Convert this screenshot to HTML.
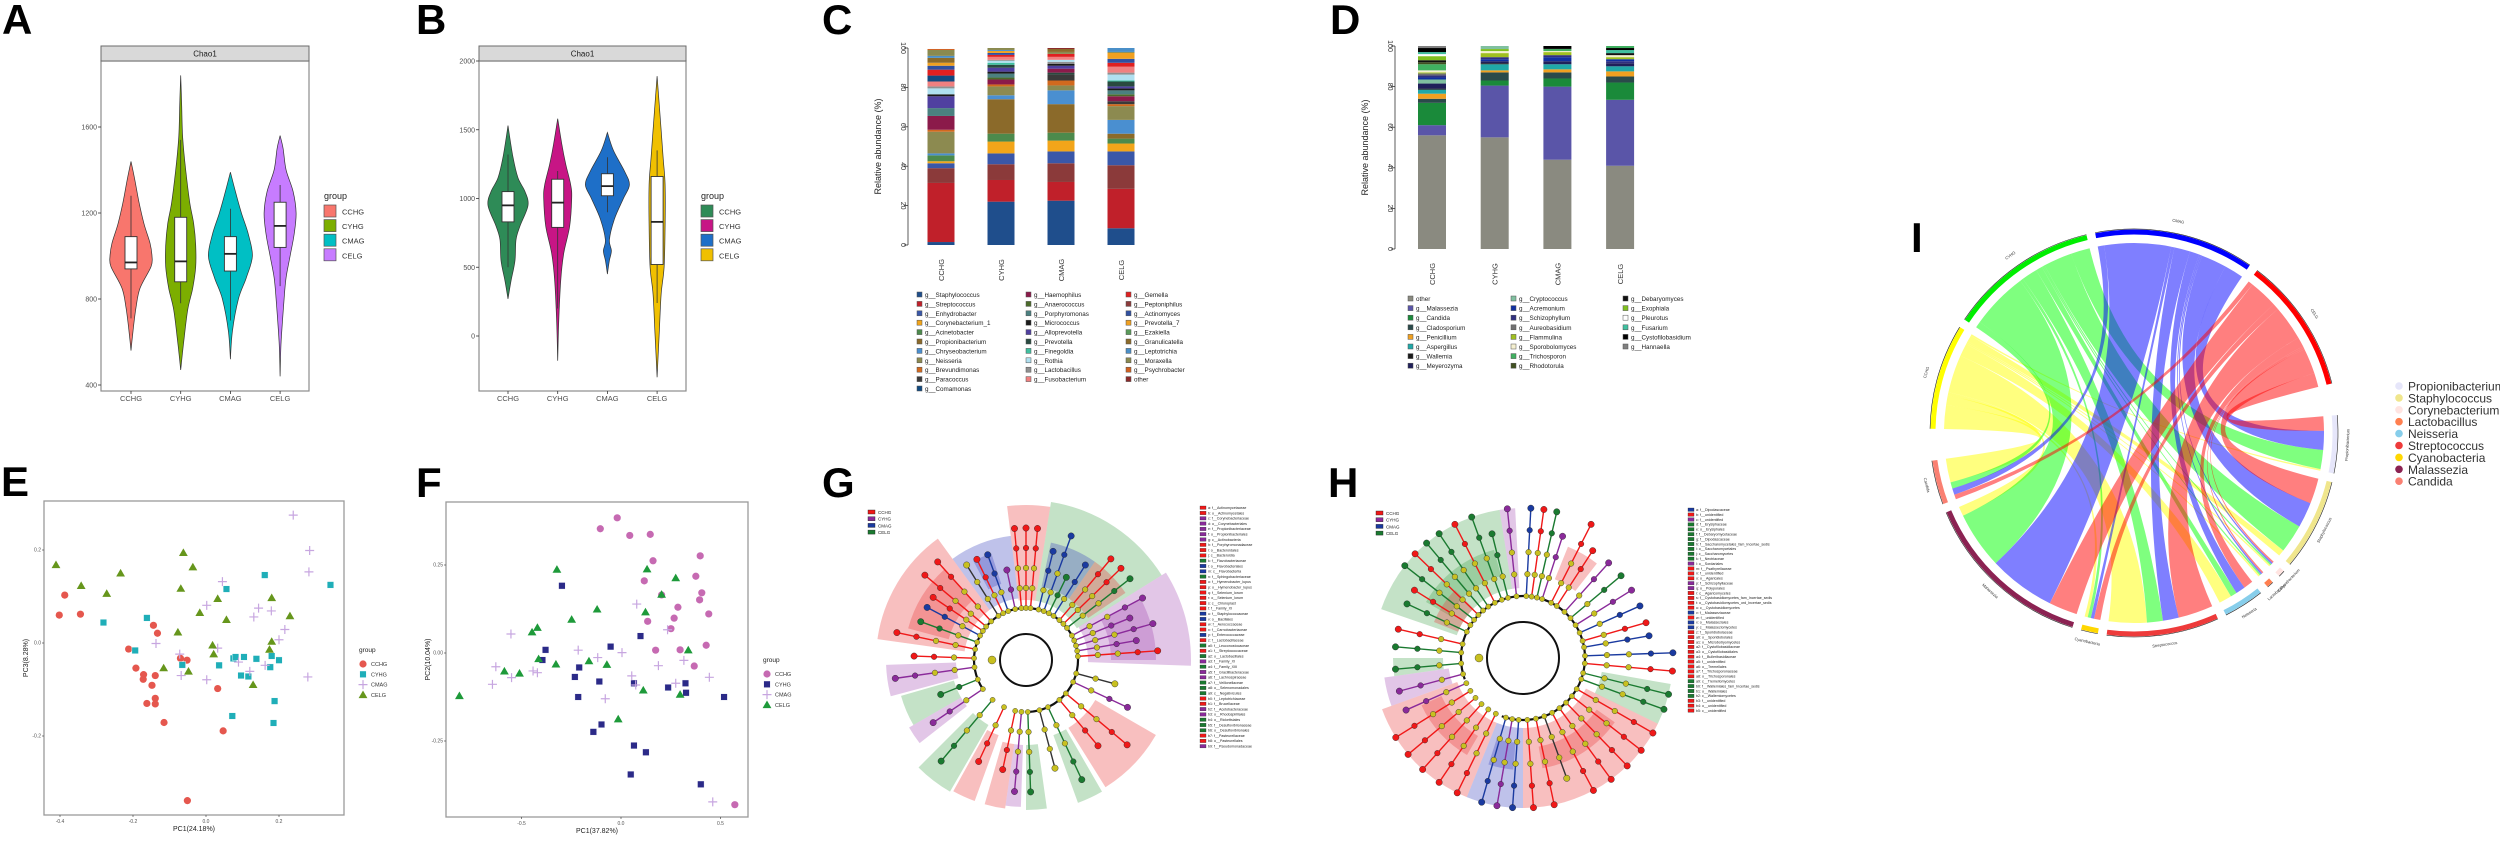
<!DOCTYPE html>
<html><head><meta charset="utf-8"><title>Figure</title>
<style>
html,body{margin:0;padding:0;background:#fff;}
svg{display:block;font-family:"Liberation Sans",sans-serif;}
</style></head>
<body>
<svg id="fig" width="2500" height="843" viewBox="0 0 2500 843" xmlns="http://www.w3.org/2000/svg">
<rect x="0" y="0" width="2500" height="843" fill="#fff"/>
</svg>
<script>
// ---------- DATA ----------
const vGroups=['CCHG','CYHG','CMAG','CELG'];
// Panel A violin
const aTicks=[400,800,1200,1600];
const aKnotVals=[[560,650,760,850,950,1000,1060,1150,1250,1350,1440],[470,600,750,850,950,1050,1150,1250,1400,1550,1700,1840],[520,650,800,900,1000,1100,1200,1300,1390],[440,600,800,900,1000,1100,1200,1300,1400,1500,1560]];
const aKnotWidths=[[0,2,5,9,20,21,19,13,8,4,0],[0,3,7,12,15,15,13,9,5,2,1,0],[0,2,8,16,22,18,11,5,0],[0,1,4,6,10,14,16,13,6,3,0]];
const aQ1=[940,880,930,1040];
const aMed=[970,975,1010,1140];
const aQ3=[1090,1180,1090,1250];
const aWLo=[710,780,700,860];
const aWHi=[1280,1540,1220,1330];
// Panel B violin
const bTicks=[0,500,1000,1500,2000];
const bKnotVals=[[270,400,550,700,800,950,1050,1150,1300,1530],[-180,100,400,600,800,1000,1100,1250,1400,1580],[450,550,620,700,850,1000,1100,1200,1350,1480],[-300,0,300,500,800,1100,1300,1600,1890]];
const bKnotWidths=[[0,3,7,8,12,20,17,10,5,0],[0,1,3,6,12,14,13,8,4,0],[0,2,4,2,7,16,22,17,6,0],[0,2,4,7,8,8,6,3,0]];
const bQ1=[830,790,1020,520];
const bMed=[950,970,1090,830];
const bQ3=[1050,1140,1180,1160];
const bWLo=[500,200,900,240];
const bWHi=[1320,1200,1300,1350];

// Panel C stacked bars
const cGenera=['Staphylococcus','Streptococcus','Enhydrobacter','Corynebacterium_1','Acinetobacter','Propionibacterium','Chryseobacterium','Neisseria','Brevundimonas','Paracoccus','Comamonas','Haemophilus','Anaerococcus','Porphyromonas','Micrococcus','Alloprevotella','Prevotella','Finegoldia','Rothia','Lactobacillus','Fusobacterium','Gemella','Peptoniphilus','Actinomyces','Prevotella_7','Ezakiella','Granulicatella','Leptotrichia','Moraxella','Psychrobacter','other'];
const cColors=['#1f4e8c','#c0202a','#3a57a8','#f2a51a','#4c8a4c','#8b6a2a','#4a8fd0','#8c8a50','#d2691e','#3a3a3a','#114a80','#8b1a4a','#4b6b2a','#4b8080','#1a1a1a','#5040a0','#2a4a40','#40c0a0','#b0e0f0','#909090','#f08080','#e02020','#8b3a3a','#3050a0','#f0a020','#5a9a5a','#8b6a2a','#4a8fc8','#8a8a50','#d06020','#8b2a2a'];
const cSegCCHG=['Staphylococcus','Streptococcus','Peptoniphilus','Enhydrobacter','Corynebacterium_1','Acinetobacter','Chryseobacterium','Neisseria','Brevundimonas','Haemophilus','Porphyromonas','Alloprevotella','Micrococcus','Rothia','Lactobacillus','Fusobacterium','Comamonas','Gemella','Actinomyces','Prevotella_7','Granulicatella','Leptotrichia','Moraxella','Psychrobacter'];
const cValCCHG=[1.5,30,7.5,2.5,1,3,1,11,1,7,4,6,1,3,1,2.5,3,3,2,1.5,2.5,1,3,0.5];
const cSegCYHG=['Staphylococcus','Streptococcus','Peptoniphilus','Enhydrobacter','Corynebacterium_1','Acinetobacter','Propionibacterium','Chryseobacterium','Neisseria','Brevundimonas','Haemophilus','Anaerococcus','Porphyromonas','Micrococcus','Alloprevotella','Prevotella','Finegoldia','Rothia','Lactobacillus','Fusobacterium','Gemella','Actinomyces','Prevotella_7','Leptotrichia','Moraxella'];
const cValCYHG=[22,11,8,5.5,6,4,17.5,2,4.5,1,2.5,1,2,1,2,1.5,1,1,0.5,1.5,1,1,1,0.5,1];
const cSegCMAG=['Staphylococcus','Streptococcus','Peptoniphilus','Enhydrobacter','Corynebacterium_1','Acinetobacter','Propionibacterium','Chryseobacterium','Neisseria','Brevundimonas','Paracoccus','Prevotella','Haemophilus','Alloprevotella','Micrococcus','Lactobacillus','Rothia','Fusobacterium','Gemella','Moraxella','Granulicatella','other'];
const cValCMAG=[22.5,9.5,9.5,6,5.5,4,14.5,7,2.5,2.5,3,1,2,1.5,1,1,1,1.5,1.5,1,1.5,0.5];
const cSegCELG=['Staphylococcus','Streptococcus','Peptoniphilus','Enhydrobacter','Corynebacterium_1','Acinetobacter','Propionibacterium','Chryseobacterium','Neisseria','Brevundimonas','Paracoccus','Haemophilus','Anaerococcus','Porphyromonas','Micrococcus','Alloprevotella','Prevotella','Finegoldia','Rothia','Lactobacillus','Fusobacterium','Gemella','Actinomyces','Prevotella_7','Moraxella','Leptotrichia'];
const cValCELG=[8.5,20,12,7,4,2.5,2.5,7,7,1,1.5,2.5,1,2,1,1,2.5,0.5,3,1,3,2,2,3,0.5,2];
const cTicks=[0,20,40,60,80,100];

// Panel D stacked bars
const dGenera=['other','Malassezia','Candida','Cladosporium','Penicillium','Aspergillus','Wallemia','Meyerozyma','Cryptococcus','Acremonium','Schizophyllum','Aureobasidium','Flammulina','Sporobolomyces','Trichosporon','Rhodotorula','Debaryomyces','Exophiala','Pleurotus','Fusarium','Cystofilobasidium','Hannaella'];
const dColors=['#8a8a80','#5a55a8','#1a8a3a','#2a4a4a','#f0a020','#20a8a8','#1a1a1a','#20205a','#80c0a0','#1030a0','#303080','#707070','#a0c020','#f5f0d0','#40b060','#405020','#111111','#80c020','#ffffff','#40c0a0','#000000','#808080'];
const dSegCCHG=['other','Malassezia','Candida','Cladosporium','Penicillium','Aspergillus','Wallemia','Meyerozyma','Cryptococcus','Acremonium','Schizophyllum','Aureobasidium','Flammulina','Sporobolomyces','Trichosporon','Rhodotorula','Debaryomyces','Exophiala','Pleurotus','Fusarium','Cystofilobasidium','Hannaella'];
const dValCCHG=[56,5,11,2,2.5,2,0.5,2.5,2,1,1,1,0.5,1,3,1,1,2,1,1,2,1];
const dSegCYHG=['other','Malassezia','Candida','Cladosporium','Penicillium','Aspergillus','Wallemia','Meyerozyma','Acremonium','Schizophyllum','Flammulina','Sporobolomyces','Exophiala','Cryptococcus'];
const dValCYHG=[55,25.5,2.5,4,1,3,0.5,1,1,1,2,1,1,1.5];
const dSegCMAG=['other','Malassezia','Candida','Cladosporium','Penicillium','Aspergillus','Meyerozyma','Acremonium','Schizophyllum','Flammulina','Sporobolomyces','Trichosporon','Debaryomyces','Cystofilobasidium'];
const dValCMAG=[44,36,4,3,1.5,2.5,1.5,2,1,1.5,0.5,1,0.5,1];
const dSegCELG=['other','Malassezia','Candida','Cladosporium','Penicillium','Aspergillus','Meyerozyma','Schizophyllum','Acremonium','Flammulina','Sporobolomyces','Debaryomyces','Fusarium','Cystofilobasidium','Trichosporon'];
const dValCELG=[41,32.5,8.5,3,2.5,2.5,1.5,1,1,1,1,1,1.5,1,1];

// Panel E PCoA
const eXTicks=[-0.4,-0.2,0.0,0.2];
const eYTicks=[-0.2,0.0,0.2];
const eCCHGx=[-0.387,-0.402,-0.344,-0.144,-0.133,-0.212,-0.192,-0.171,-0.172,-0.139,-0.148,-0.139,-0.162,-0.139,-0.115,-0.070,-0.052,0.032,0.047,-0.051];
const eCCHGy=[0.103,0.060,0.062,0.038,0.021,-0.013,-0.054,-0.068,-0.078,-0.070,-0.091,-0.119,-0.130,-0.131,-0.171,-0.033,-0.037,-0.098,-0.189,-0.339];
const eCYHGx=[-0.281,-0.162,-0.194,-0.065,0.056,0.161,0.341,0.036,0.075,0.081,0.104,0.138,0.180,0.200,0.176,0.096,0.116,0.188,0.072,0.185];
const eCYHGy=[0.044,0.054,-0.016,-0.047,0.116,0.146,0.125,-0.048,-0.033,-0.030,-0.030,-0.034,-0.028,-0.037,-0.052,-0.070,-0.072,-0.125,-0.157,-0.172];
const eCMAGx=[0.239,0.284,0.282,0.045,0.002,0.144,0.131,0.179,0.216,0.200,0.032,-0.137,-0.072,-0.068,0.002,0.089,0.120,0.162,0.279];
const eCMAGy=[0.275,0.199,0.153,0.132,0.081,0.075,0.056,0.069,0.029,0.007,-0.011,-0.001,-0.024,-0.070,-0.079,-0.041,-0.061,-0.048,-0.073];
const eCELGx=[-0.411,-0.342,-0.272,-0.234,-0.062,-0.036,-0.069,0.032,-0.017,0.056,0.180,0.230,0.180,-0.077,0.018,0.021,-0.116,-0.048,0.174,0.129];
const eCELGy=[0.168,0.123,0.106,0.150,0.194,0.163,0.117,0.095,0.065,0.050,0.097,0.058,0.003,0.023,-0.005,-0.024,-0.054,-0.061,-0.014,-0.090];

// Panel F PCoA
const fXTicks=[-0.5,0.0,0.5];
const fYTicks=[-0.25,0.00,0.25];
const fCCHGx=[-0.019,-0.104,0.044,0.147,0.161,0.398,0.117,0.376,0.406,0.204,0.395,0.286,0.441,0.134,0.267,0.251,0.174,0.297,0.428,0.368,0.572];
const fCCHGy=[0.384,0.353,0.334,0.337,0.262,0.276,0.205,0.218,0.171,0.165,0.151,0.130,0.111,0.090,0.099,0.069,0.008,0.009,0.022,-0.037,-0.431];
const fCYHGx=[-0.297,-0.379,-0.395,-0.210,-0.232,-0.109,-0.052,0.098,0.065,0.237,0.324,0.327,0.518,-0.215,-0.098,-0.139,0.065,0.125,0.049,0.401];
const fCYHGy=[0.191,0.009,-0.020,-0.041,-0.068,-0.081,0.018,0.048,-0.086,-0.098,-0.086,-0.113,-0.125,-0.125,-0.203,-0.224,-0.263,-0.282,-0.345,-0.373];
const fCMAGx=[-0.553,-0.629,-0.550,-0.646,-0.442,-0.420,-0.215,-0.117,-0.079,0.005,0.079,0.234,0.054,0.074,0.188,0.275,0.316,0.444,0.461];
const fCMAGy=[0.054,-0.039,-0.070,-0.089,-0.051,-0.056,0.008,-0.013,-0.130,0.001,0.139,0.066,-0.065,-0.091,-0.036,-0.086,-0.021,-0.069,-0.423];
const fCELGx=[-0.322,0.131,0.275,0.204,-0.120,0.123,-0.248,-0.420,-0.447,-0.414,-0.327,-0.161,-0.071,-0.586,-0.510,-0.812,0.112,0.297,0.338,-0.014];
const fCELGy=[0.237,0.238,0.213,0.166,0.124,0.116,0.095,0.072,0.059,-0.017,-0.032,-0.023,-0.033,-0.052,-0.058,-0.122,-0.106,-0.118,0.008,-0.188];

// Panel I chord
const iGroups=['CMAG','CELG'];
const iGroups2=['CCHG','CYHG'];
const iGenera=['Propionibacterium','Staphylococcus','Corynebacterium','Lactobacillus','Neisseria','Streptococcus','Cyanobacteria','Malassezia','Candida'];
const iGenusColors=['#e6e6fa','#f0e68c','#ffe4e1','#ff7f50','#87ceeb','#ee3b3b','#ffd700','#8b2252','#fa8072'];
const iRowCCHG=[0.5,2,0.5,0.5,4,12,1,3,7.5];
const iRowCYHG=[6,9,0.5,0.5,2,5,1,18,2];
const iRowCMAG=[6,8,0.5,0.5,3,5,1,21,2];
const iRowCELG=[4.5,8,0.5,0.5,3,11,2,9,1.5];

// ---------- HELPERS ----------
const NS='http://www.w3.org/2000/svg';
const svg=document.getElementById('fig');
function mk(tag,attrs,parent){const e=document.createElementNS(NS,tag);for(const k in attrs)e.setAttribute(k,attrs[k]);(parent||svg).appendChild(e);return e;}
function txt(x,y,s,attrs,parent){const t=mk('text',Object.assign({x:x,y:y},attrs||{}),parent);t.textContent=s;return t;}
function grp(parent){return mk('g',{},parent);}
function cr(p){let d='';for(let i=0;i<p.length-1;i++){const p0=p[i-1]||p[i],p1=p[i],p2=p[i+1],p3=p[i+2]||p2;const c1=[p1[0]+(p2[0]-p0[0])/6,p1[1]+(p2[1]-p0[1])/6],c2=[p2[0]-(p3[0]-p1[0])/6,p2[1]-(p3[1]-p1[1])/6];d+='C'+c1[0].toFixed(1)+','+c1[1].toFixed(1)+' '+c2[0].toFixed(1)+','+c2[1].toFixed(1)+' '+p2[0].toFixed(1)+','+p2[1].toFixed(1);}return d;}
function pol(cx,cy,r,deg){const a=deg*Math.PI/180;return [cx+r*Math.sin(a),cy-r*Math.cos(a)];}

function letter(x,y,s,name){const t=txt(x,y,s,{'font-size':42,'font-weight':'bold',fill:'#000'});

}
letter(2,34,'A','panel-label-a');letter(416,34,'B','panel-label-b');letter(822,34,'C','panel-label-c');letter(1330,34,'D','panel-label-d');
letter(1,496,'E','panel-label-e');letter(416,497,'F','panel-label-f');letter(822,497,'G','panel-label-g');letter(1328,497,'H','panel-label-h');letter(1911,252,'I','panel-label-i');

// ---------- VIOLIN PANELS ----------
function violin(p){
  const g=grp();
  
  
  const y=v=>p.y0-(v-p.v0)*p.k;
  const x=i=>p.xc0+i*p.dx;
  const fr=mk('rect',{x:p.x0,y:p.top,width:p.x1-p.x0,height:p.bot-p.top,fill:'#fff',stroke:'#8c8c8c','stroke-width':1.2},g);
  
  
  const st=mk('rect',{x:p.x0,y:p.top-15,width:p.x1-p.x0,height:15,fill:'#d9d9d9',stroke:'#6b6b6b','stroke-width':1},g);
  
  
  const stt=txt((p.x0+p.x1)/2,p.top-4.5,'Chao1',{'font-size':8,'text-anchor':'middle',fill:'#1a1a1a'},g);
  
  
  p.ticks.forEach(t=>{
    const ty=y(t);
    mk('line',{x1:p.x0-3,x2:p.x0,y1:ty,y2:ty,stroke:'#333','stroke-width':0.8},g);
    const tl=txt(p.x0-4,ty+2.5,String(t),{'font-size':7,'text-anchor':'end',fill:'#4d4d4d'},g);
    
    
  });
  vGroups.forEach((gn,i)=>{
    const xc=x(i);
    const right=p.kv[i].map((v,j)=>[xc+p.kw[i][j],y(v)]);
    const left=p.kv[i].map((v,j)=>[xc-p.kw[i][j],y(v)]).reverse();
    let d='M'+right[0][0]+','+right[0][1]+cr(right)+cr(left)+'Z';
    const vp=mk('path',{d:d,fill:p.colors[i],stroke:'#333','stroke-width':0.7},g);
    
    
    mk('line',{x1:xc,x2:xc,y1:y(p.wlo[i]),y2:y(p.whi[i]),stroke:'#333','stroke-width':0.8},g);
    const bx=mk('rect',{x:xc-6,y:y(p.q3[i]),width:12,height:y(p.q1[i])-y(p.q3[i]),fill:'#fff',stroke:'#333','stroke-width':0.9},g);
    
    
    mk('line',{x1:xc-6,x2:xc+6,y1:y(p.med[i]),y2:y(p.med[i]),stroke:'#222','stroke-width':1.8},g);
    mk('line',{x1:xc,x2:xc,y1:p.bot,y2:p.bot+3,stroke:'#333','stroke-width':0.8},g);
    const xl=txt(xc,p.bot+10,gn,{'font-size':7.5,'text-anchor':'middle',fill:'#4d4d4d'},g);
    
    
    const lk=mk('rect',{x:p.lx,y:205+i*14.6,width:12,height:12,fill:p.colors[i],stroke:'#555','stroke-width':0.7},g);
    
    
    const lt=txt(p.lx+18,214.5+i*14.6,gn,{'font-size':7.5,fill:'#333'},g);
    
    
  });
  const lg=txt(p.lx,199,'group',{'font-size':9,fill:'#222'},g);
  
  
}
violin({name:'panel-a-violin',x0:101,x1:309,top:61,bot:391,y0:213,v0:1200,k:86/400,xc0:131,dx:49.7,ticks:aTicks,kv:aKnotVals,kw:aKnotWidths,q1:aQ1,q3:aQ3,med:aMed,wlo:aWLo,whi:aWHi,colors:['#F8766D','#7CAE00','#00BFC4','#C77CFF'],lx:324});
violin({name:'panel-b-violin',x0:479,x1:686,top:61,bot:391,y0:336,v0:0,k:0.1375,xc0:508,dx:49.7,ticks:bTicks,kv:bKnotVals,kw:bKnotWidths,q1:bQ1,q3:bQ3,med:bMed,wlo:bWLo,whi:bWHi,colors:['#2E8B57','#C71585','#1E6FC8','#F0C000'],lx:701});

// ---------- STACKED BARS ----------
function stacked(p){
  const g=grp();
  
  
  const y=v=>p.y0-v*p.k;
  mk('line',{x1:p.ax,x2:p.ax,y1:y(0),y2:y(100),stroke:'#333','stroke-width':0.8},g);
  cTicks.forEach(t=>{
    mk('line',{x1:p.ax-4,x2:p.ax,y1:y(t),y2:y(t),stroke:'#333','stroke-width':0.8},g);
    const tl=txt(p.ax-7,y(t),String(t),{'font-size':7,'text-anchor':'middle',fill:'#333',transform:'rotate(90 '+(p.ax-7)+' '+y(t)+')'},g);
    
    
  });
  const yl=txt(p.ax-27,(y(0)+y(100))/2,'Relative abundance (%)',{'font-size':9,'text-anchor':'middle',fill:'#222',transform:'rotate(-90 '+(p.ax-27)+' '+(y(0)+y(100))/2+')'},g);
  
  
  vGroups.forEach((gn,i)=>{
    const xc=p.xc0+i*p.dx;let cum=0;
    p.segs[i].forEach((s,j)=>{
      const v=p.vals[i][j];
      const r=mk('rect',{x:xc-p.bw/2,y:y(cum+v),width:p.bw,height:v*p.k,fill:p.colors[p.genera.indexOf(s)],stroke:'none'},g);
      
      
      cum+=v;
    });
    const gl=txt(xc+3,p.gly,gn,{'font-size':7.5,'text-anchor':'middle',fill:'#333',transform:'rotate(-90 '+(xc+3)+' '+p.gly+')'},g);
    
    
  });
  p.genera.forEach((gname,k)=>{
    let col=0,row=k;for(let c=0;c<p.cols.length;c++){if(row>=p.cols[c]){row-=p.cols[c];col++;}else break;}
    const lx=p.lx[col],ly=p.ly0+row*p.lsp;
    const lk=mk('rect',{x:lx,y:ly-5,width:5,height:5,fill:p.colors[k],stroke:'#555','stroke-width':0.5},g);
    
    
    const lt=txt(lx+8,ly,gname==='other'?'other':'g__'+gname,{'font-size':6.3,fill:'#222'},g);
    
    
  });
}
stacked({name:'panel-c-stacked-bar',ax:908,y0:245,k:1.97,xc0:941,dx:60,bw:27,gly:270,segs:[cSegCCHG,cSegCYHG,cSegCMAG,cSegCELG],vals:[cValCCHG,cValCYHG,cValCMAG,cValCELG],genera:cGenera,colors:cColors,cols:[11,10,10],lx:[917,1026,1126],ly0:297,lsp:9.4});
stacked({name:'panel-d-stacked-bar',ax:1395,y0:249,k:2.03,xc0:1432,dx:62.7,bw:28,gly:274,segs:[dSegCCHG,dSegCYHG,dSegCMAG,dSegCELG],vals:[dValCCHG,dValCYHG,dValCMAG,dValCELG],genera:dGenera,colors:dColors,cols:[8,8,6],lx:[1408,1511,1623],ly0:301,lsp:9.6});

// ---------- SCATTER ----------
function marker(g,shape,x,y,col,name){
  let m;
  if(shape==='circle')m=mk('circle',{cx:x,cy:y,r:3.6,fill:col},g);
  else if(shape==='square')m=mk('rect',{x:x-3.3,y:y-3.3,width:6.6,height:6.6,fill:col,stroke:'#fff','stroke-width':0.4},g);
  else if(shape==='tri')m=mk('path',{d:'M'+x+','+(y-4.4)+'L'+(x+4.4)+','+(y+3.2)+'L'+(x-4.4)+','+(y+3.2)+'Z',fill:col},g);
  else m=mk('path',{d:'M'+(x-4.5)+','+y+'H'+(x+4.5)+'M'+x+','+(y-4.5)+'V'+(y+4.5),stroke:col,'stroke-width':1.2,fill:'none'},g);
  
  
}
function scatter(p){
  const g=grp();
  
  
  const X=v=>p.xc+v*p.kx,Y=v=>p.yc-v*p.ky;
  const fr=mk('rect',{x:p.x0,y:p.y0,width:p.x1-p.x0,height:p.y1-p.y0,fill:'#fff',stroke:'#9a9a9a','stroke-width':1.3},g);
  
  
  p.xt.forEach(t=>{mk('line',{x1:X(t),x2:X(t),y1:p.y1,y2:p.y1+2,stroke:'#333','stroke-width':0.6},g);
    const l=txt(X(t),p.y1+8,t.toFixed(1),{'font-size':5,'text-anchor':'middle',fill:'#555'},g);
    
    });
  p.yt.forEach(t=>{mk('line',{x1:p.x0-2,x2:p.x0,y1:Y(t),y2:Y(t),stroke:'#333','stroke-width':0.6},g);
    const l=txt(p.x0-3,Y(t)+1.7,p.yfmt(t),{'font-size':5,'text-anchor':'end',fill:'#555'},g);
    
    });
  const xl=txt((p.x0+p.x1)/2,p.y1+16,p.xlab,{'font-size':7,'text-anchor':'middle',fill:'#222'},g);
  
  
  const yl=txt(p.x0-16,(p.y0+p.y1)/2,p.ylab,{'font-size':7,'text-anchor':'middle',fill:'#222',transform:'rotate(-90 '+(p.x0-16)+' '+(p.y0+p.y1)/2+')'},g);
  
  
  p.series.forEach((s,i)=>{
    s.xs.forEach((xv,j)=>marker(g,s.shape,X(xv),Y(s.ys[j]),s.col,'point-'+vGroups[i].toLowerCase()));
    marker(g,s.shape,p.lx+4,p.ly+12+i*10.3,s.col,'legend-marker-'+vGroups[i].toLowerCase());
    const lt=txt(p.lx+12,p.ly+14+i*10.3,vGroups[i],{'font-size':5.5,fill:'#333'},g);
    
    
  });
  const lg=txt(p.lx,p.ly,'group',{'font-size':6.5,fill:'#222'},g);
  
  
}
scatter({name:'panel-e-pcoa',x0:44,x1:344,y0:501,y1:815,xc:206,kx:365,yc:643,ky:465,xt:eXTicks,yt:eYTicks,yfmt:t=>t.toFixed(1),xlab:'PC1(24.18%)',ylab:'PC3(8.28%)',lx:359,ly:652,
 series:[{xs:eCCHGx,ys:eCCHGy,shape:'circle',col:'#E5574E'},{xs:eCYHGx,ys:eCYHGy,shape:'square',col:'#1FAEB8'},{xs:eCMAGx,ys:eCMAGy,shape:'plus',col:'#C7A6E0'},{xs:eCELGx,ys:eCELGy,shape:'tri',col:'#66961C'}]});
scatter({name:'panel-f-pcoa',x0:446,x1:748,y0:502,y1:817,xc:621,kx:199,yc:653,ky:352,xt:fXTicks,yt:fYTicks,yfmt:t=>t.toFixed(2),xlab:'PC1(37.82%)',ylab:'PC2(10.04%)',lx:763,ly:662,
 series:[{xs:fCCHGx,ys:fCCHGy,shape:'circle',col:'#C66AB2'},{xs:fCYHGx,ys:fCYHGy,shape:'square',col:'#2B2A88'},{xs:fCMAGx,ys:fCMAGy,shape:'plus',col:'#C7A6E0'},{xs:fCELGx,ys:fCELGy,shape:'tri',col:'#1E9A3A'}]});

// ---------- CLADOGRAMS ----------
const cladoCol={r:'#f01818',g:'#1a7a30',b:'#1a3aa0',p:'#8a2a9a',y:'#c8c020'};
const cladoFill={r:'rgba(235,60,60,0.33)',g:'rgba(60,160,70,0.30)',b:'rgba(60,70,190,0.33)',p:'rgba(150,50,170,0.28)'};
function wedge(cx,cy,r0,r1,a0,a1){const L=(a1-a0)>180?1:0;const p1=pol(cx,cy,r1,a0),p2=pol(cx,cy,r1,a1),p3=pol(cx,cy,r0,a1),p4=pol(cx,cy,r0,a0);
 return 'M'+p1+'A'+r1+','+r1+' 0 '+L+' 1 '+p2+'L'+p3+'A'+r0+','+r0+' 0 '+L+' 0 '+p4+'Z';}
function clado(p){
  const g=grp();
  
  
  p.sectors.forEach(s=>{const w=mk('path',{d:wedge(p.cx,p.cy,s[3],s[4],s[0],s[1]),fill:cladoFill[s[2]],stroke:'none'},g);
    
    });
  mk('circle',{cx:p.cx,cy:p.cy,r:p.r1,fill:'none',stroke:'#111','stroke-width':2},g);
  mk('path',{d:'M'+pol(p.cx,p.cy,p.r2,p.ma0)+'A'+p.r2+','+p.r2+' 0 1 1 '+pol(p.cx,p.cy,p.r2,p.ma1),fill:'none',stroke:'#111','stroke-width':2.2},g);
  p.leaves.forEach(l=>{
    const a=l[0],c=cladoCol[l[1]],dep=l[2];
    const e=pol(p.cx,p.cy,p.r2+dep*p.step,a),s=pol(p.cx,p.cy,p.r2,a);
    mk('line',{x1:s[0],y1:s[1],x2:e[0],y2:e[1],stroke:l[1]==='y'?'#333':c,'stroke-width':1.4},g);
    const n0=pol(p.cx,p.cy,p.r2,a);mk('circle',{cx:n0[0],cy:n0[1],r:2.6,fill:'#c8c020',stroke:'#333','stroke-width':0.4},g);
    for(let k=1;k<=dep;k++){const q=pol(p.cx,p.cy,p.r2+k*p.step,a);
      const n=mk('circle',{cx:q[0],cy:q[1],r:k===dep?3.2:2.8,fill:(k>=dep-1||l[1]==='y')?c:'#c8c020',stroke:'#222','stroke-width':0.4},g);
      
      }
  });
  const cn=mk('circle',{cx:p.cx-p.r1-8,cy:p.cy,r:4,fill:'#c8c020',stroke:'#333','stroke-width':0.4},g);
  
  
  // group legend
  [['CCHG','#f01818'],['CYHG','#8a2a9a'],['CMAG','#1a3aa0'],['CELG','#1a7a30']].forEach((e,i)=>{
    const k=mk('rect',{x:p.glx,y:p.gly+i*6.7-3,width:7,height:4,fill:e[1],stroke:'#222','stroke-width':0.4},g);
    
    
    const t=txt(p.glx+10,p.gly+i*6.7+1,e[0],{'font-size':4.5,fill:'#222'},g);
    
    });
  p.labels.forEach((s,i)=>{
    const k=mk('rect',{x:p.llx,y:p.lly+i*p.lsp-3,width:6,height:3.4,fill:cladoCol[p.labcols[i%p.labcols.length]],stroke:'#222','stroke-width':0.3},g);
    
    
    const t=txt(p.llx+8,p.lly+i*p.lsp,s,{'font-size':3.6,fill:'#222'},g);
    
    });
}
const gLabels=['a: f__Actinomycetaceae','b: o__Actinomycetales','c: f__Corynebacteriaceae','d: o__Corynebacteriales','e: f__Propionibacteriaceae','f: o__Propionibacteriales','g: c__Actinobacteria','h: f__Porphyromonadaceae','i: o__Bacteroidales','j: c__Bacteroidia','k: f__Flavobacteriaceae','l: o__Flavobacteriales','m: c__Flavobacteriia','n: f__Sphingobacteriaceae','o: f__Hymenobacter_lupus','p: o__Hymenobacter_lupus','q: f__Selenium_lorum','r: o__Selenium_lorum','s: c__Chloroplast','t: f__Family_XI','u: f__Staphylococcaceae','v: o__Bacillales','w: f__Aerococcaceae','x: f__Carnobacteriaceae','y: f__Enterococcaceae','z: f__Lactobacillaceae','a0: f__Leuconostocaceae','a1: f__Streptococcaceae','a2: o__Lactobacillales','a3: f__Family_XI','a4: f__Family_XIII','a5: f__Gracilibacteraceae','a6: f__Lachnospiraceae','a7: f__Veillonellaceae','a8: o__Selenomonadales','a9: c__Negativicutes','b0: f__Leptotrichiaceae','b1: f__Brucellaceae','b2: f__Acetobacteraceae','b3: o__Rhodospirillales','b4: o__Rickettsiales','b5: f__Desulfovibrionaceae','b6: o__Desulfovibrionales','b7: f__Pasteurellaceae','b8: o__Pasteurellales','b9: f__Pseudomonadaceae'];
const hLabels=['a: f__Dipodascaceae','b: f__unidentified','c: f__unidentified','d: f__Erysiphaceae','e: o__Erysiphales','f: f__Debaryomycetaceae','g: f__Dipodascaceae','h: f__Saccharomycetales_fam_Incertae_sedis','i: o__Saccharomycetales','j: c__Saccharomycetes','k: f__Nectriaceae','l: o__Sordariales','m: f__Psathyrellaceae','n: f__unidentified','o: o__Agaricales','p: f__Schizophyllaceae','q: o__Polyporales','r: c__Agaricomycetes','s: f__Cystobasidiomycetes_fam_Incertae_sedis','t: o__Cystobasidiomycetes_ord_Incertae_sedis','u: c__Cystobasidiomycetes','v: f__Malasseziaceae','w: f__unidentified','x: o__Malasseziales','y: c__Malasseziomycetes','z: f__Sporidiobolaceae','a0: o__Sporidiobolales','a1: o__Microbotryomycetes','a2: f__Cystofilobasidiaceae','a3: o__Cystofilobasidiales','a4: f__Bulleribasidiaceae','a5: f__unidentified','a6: o__Tremellales','a7: f__Trichosporonaceae','a8: o__Trichosporonales','a9: c__Tremellomycetes','b0: f__Wallemiales_fam_Incertae_sedis','b1: o__Wallemiales','b2: c__Wallemiomycetes','b3: f__unidentified','b4: o__unidentified','b5: c__unidentified'];
clado({name:'panel-g-cladogram',cx:1026,cy:660,r1:26,r2:52,step:20,ma0:-125,ma1:178,
 sectors:[[-7,9,'r',60,155],[9,58,'g',60,160],[12,35,'b',75,120],[35,56,'r',75,120],[58,92,'p',62,165],[62,90,'p',85,130],[-36,-7,'b',62,125],[-28,-18,'b',80,112],[-82,-36,'r',62,150],[-75,-42,'r',80,122],[-105,-92,'p',70,140],[-120,-106,'g',75,130],[-128,-120,'p',75,135],[-150,-135,'g',75,152],[-160,-151,'r',80,150],[-172,-164,'r',85,150],[-178,-172,'p',85,147],[172,180,'g',85,150],[150,160,'g',80,152],[120,148,'r',80,150]],
 leaves:[[-5,'r',4],[0,'r',4],[5,'r',4],[14,'b',3],[20,'b',4],[26,'g',2],[32,'b',3],[40,'r',4],[46,'r',4],[52,'g',4],[62,'p',4],[68,'p',3],[74,'p',4],[80,'p',3],[86,'r',4],[-12,'p',2],[-20,'b',3],[-26,'r',3],[-32,'y',3],[-42,'r',4],[-50,'r',4],[-56,'r',3],[-62,'b',3],[-70,'g',3],[-78,'r',4],[-88,'r',3],[-98,'p',4],[-112,'g',2],[-124,'p',3],[-140,'g',4],[-155,'r',3],[-168,'r',3],[-175,'p',4],[178,'g',4],[165,'y',3],[155,'g',4],[140,'r',3],[130,'r',4],[115,'p',3],[105,'y',2]],
 glx:868,gly:513,labels:gLabels,labcols:['r','r','p','p','p','p','p','r','r','r','g','b','b','g','r','r','r','r','r','r','b','b','r','r','b','r','g','r','g','p','g','p','p','g','g','g','r','r','p','p','g','g','g','r','r','p'],llx:1200,lly:509,lsp:5.3});
clado({name:'panel-h-cladogram',cx:1523,cy:658,r1:36,r2:62,step:22,ma0:-110,ma1:200,
 sectors:[[-71,-9,'g',70,150],[-60,-15,'g',85,112],[-68,-45,'r',70,96],[-9,-3,'p',70,150],[22,38,'r',85,120],[100,116,'g',80,150],[116,180,'r',70,150],[125,170,'r',90,112],[180,202,'b',70,150],[185,198,'b',85,112],[202,250,'r',70,150],[210,245,'r',90,112],[250,262,'p',75,140],[262,270,'g',80,130]],
 leaves:[[-65,'g',3],[-58,'r',3],[-52,'g',4],[-46,'r',4],[-40,'g',4],[-34,'g',4],[-27,'r',4],[-20,'g',4],[-14,'g',3],[-6,'p',4],[3,'b',4],[8,'r',4],[13,'g',4],[18,'p',3],[27,'r',4],[33,'r',3],[42,'p',3],[50,'g',3],[58,'p',3],[66,'b',3],[74,'r',3],[80,'b',3],[88,'b',4],[95,'r',4],[104,'g',4],[110,'g',4],[120,'r',4],[128,'r',4],[136,'r',4],[144,'r',4],[152,'r',4],[160,'y',3],[168,'r',4],[176,'r',4],[184,'b',4],[190,'p',4],[196,'b',4],[206,'r',4],[214,'r',4],[222,'r',4],[230,'r',4],[238,'r',4],[246,'p',3],[255,'p',3],[265,'g',3],[275,'g',3],[283,'r',3]],
 glx:1376,gly:514,labels:hLabels,labcols:['b','r','p','g','g','g','g','g','g','g','g','p','r','r','r','p','p','r','r','r','r','b','r','b','b','r','r','r','r','r','r','r','r','r','r','g','g','g','g','r','r','r'],llx:1688,lly:511,lsp:4.9});

// ---------- CHORD ----------
(function(){
  const g=grp();
  
  
  const cx=2134,cy=433,R=201,Rr=190;
  const rows={CMAG:iRowCMAG,CELG:iRowCELG,CCHG:iRowCCHG,CYHG:iRowCYHG};
  const gCol={CCHG:'#ffff00',CYHG:'#00ee00',CMAG:'#0000ff',CELG:'#ff0000'};
  const rib={CCHG:'rgba(255,255,0,0.5)',CYHG:'rgba(0,255,0,0.5)',CMAG:'rgba(0,0,255,0.5)',CELG:'rgba(255,0,0,0.5)'};
  const order=[].concat(iGroups.map(n=>({t:'g',n:n})),iGenera.map((n,i)=>({t:'s',n:n,i:i})),iGroups2.map(n=>({t:'g',n:n})));
  const gps=['CCHG','CYHG','CMAG','CELG'];
  order.forEach(o=>{o.tot=o.t==='g'?rows[o.n].reduce((a,b)=>a+b,0):gps.reduce((a,gn)=>a+rows[gn][o.i],0);});
  const gaps=order.map((o,k)=>(o.n==='CELG'||o.n==='Candida')?9:2.5);
  const totAll=order.reduce((a,o)=>a+o.tot,0),gapAll=gaps.reduce((a,b)=>a+b,0);
  const sc=(360-gapAll)/totAll;let a=-11;
  order.forEach((o,k)=>{o.a0=a;o.a1=a+o.tot*sc;a=o.a1+gaps[k];});
  const byName={};order.forEach(o=>byName[o.n]=o);
  // sub-segments
  const gOrderInSector=['CELG','CMAG','CYHG','CCHG'];
  const gen=iGenera.slice().reverse();
  const link=[];
  gps.forEach(gn=>{let p=byName[gn].a0;gen.forEach(sn=>{const i=iGenera.indexOf(sn);const w=rows[gn][i]*sc;link.push({g:gn,s:sn,ga0:p,ga1:p+w});p+=w;});});
  iGenera.forEach((sn,i)=>{let p=byName[sn].a0;gOrderInSector.forEach(gn=>{const w=rows[gn][i]*sc;const L=link.find(l=>l.g===gn&&l.s===sn);L.sa0=p;L.sa1=p+w;p+=w;});});
  link.forEach(L=>{
    const P=(r,d)=>pol(cx,cy,r,d).map(v=>v.toFixed(1)).join(',');
    const lg1=(L.ga1-L.ga0)>180?1:0,lg2=(L.sa1-L.sa0)>180?1:0;
    const d='M'+P(Rr,L.ga0)+'A'+Rr+','+Rr+' 0 '+lg1+' 1 '+P(Rr,L.ga1)+'Q'+cx+','+cy+' '+P(Rr,L.sa0)+'A'+Rr+','+Rr+' 0 '+lg2+' 1 '+P(Rr,L.sa1)+'Q'+cx+','+cy+' '+P(Rr,L.ga0)+'Z';
    const r=mk('path',{d:d,fill:rib[L.g],stroke:'none'},g);
    
    
  });
  order.forEach(o=>{
    const col=o.t==='g'?gCol[o.n]:iGenusColors[o.i];
    const p1=pol(cx,cy,R,o.a0),p2=pol(cx,cy,R,o.a1);
    const arc=mk('path',{d:'M'+p1+'A'+R+','+R+' 0 '+((o.a1-o.a0)>180?1:0)+' 1 '+p2,fill:'none',stroke:col,'stroke-width':5},g);
    
    
    const q1=pol(cx,cy,R+3,o.a0),q2=pol(cx,cy,R+3,o.a1);
    mk('path',{d:'M'+q1+'A'+(R+3)+','+(R+3)+' 0 '+((o.a1-o.a0)>180?1:0)+' 1 '+q2,fill:'none',stroke:'#222','stroke-width':0.6},g);
    const m=(o.a0+o.a1)/2,lp=pol(cx,cy,R+14,m);
    let rot=m;if(m>90&&m<270)rot=m+180;
    const t=txt(lp[0],lp[1],o.n,{'font-size':4,'text-anchor':'middle',fill:'#333',transform:'rotate('+rot+' '+lp[0]+' '+lp[1]+')'},g);
    
    
  });
  iGenera.forEach((n,i)=>{
    const c=mk('circle',{cx:2399,cy:386+i*11.9,r:3.8,fill:iGenusColors[i]},g);
    
    
    const t=txt(2408,390.5+i*11.9,n,{'font-size':12,fill:'#333'},g);
    
    
  });
})();
</script>
</body></html>
